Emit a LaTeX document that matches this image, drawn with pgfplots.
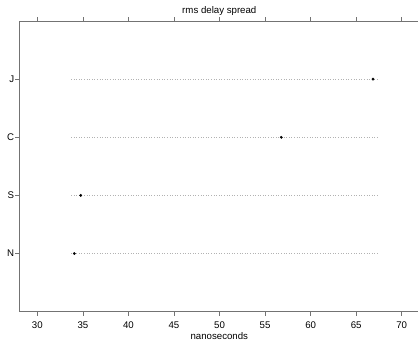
\documentclass[border=0pt]{standalone}
\usepackage{pgfplots}
\pgfplotsset{compat=1.18}
\usepackage{fontspec}
\setmainfont{Liberation Sans}
\begin{document}
\begin{tikzpicture}
\begin{axis}[
  name=ax,
  scale only axis,
  width=400bp, height=290.7bp,
  xmin=28.02, xmax=71.93,
  ymin=0, ymax=5,
  xtick={30,35,...,70},
  ytick={1,2,3,4},
  yticklabels={N,S,C,J},
  xtick pos=both, xticklabel pos=lower,
  ytick pos=left,
  tick align=outside,
  major tick length=4bp,
  axis line style={draw=gray!90!black, line width=0.7bp},
  tick style={draw=gray!90!black, line width=0.7bp},
  font=\fontsize{9.7}{11}\selectfont,
  /pgf/number format/assume math mode=true,
  xticklabel style={anchor=base, inner sep=0pt, yshift=-12.5bp},
  yticklabel style={anchor=east, inner sep=0pt, xshift=-1bp},
  every axis title shift=0pt,
  title={rms delay spread},
  title style={at={(axis description cs:0.5,1)}, anchor=base, inner sep=0pt, yshift=8bp},
  xlabel={nanoseconds},
  xlabel style={at={(axis description cs:0.5,0)}, anchor=base, inner sep=0pt, yshift=-27.8bp},
  clip=false,
]
\addplot[gray!60, dotted, line width=0.6bp] coordinates {(33.7,4) (67.5,4)};
\addplot[gray!60, dotted, line width=0.6bp] coordinates {(33.7,3) (67.5,3)};
\addplot[gray!60, dotted, line width=0.6bp] coordinates {(33.7,2) (67.5,2)};
\addplot[gray!60, dotted, line width=0.6bp] coordinates {(33.7,1) (67.5,1)};
\addplot[only marks, mark=*, mark size=1.2bp, black] coordinates {
  (34.06,1) (34.76,2) (56.78,3) (66.85,4)
};
\end{axis}
\pgfresetboundingbox
\path[use as bounding box] ([xshift=-19.3bp,yshift=-29.3bp]ax.south west) rectangle ++(418bp,341bp);
\end{tikzpicture}
\end{document}
